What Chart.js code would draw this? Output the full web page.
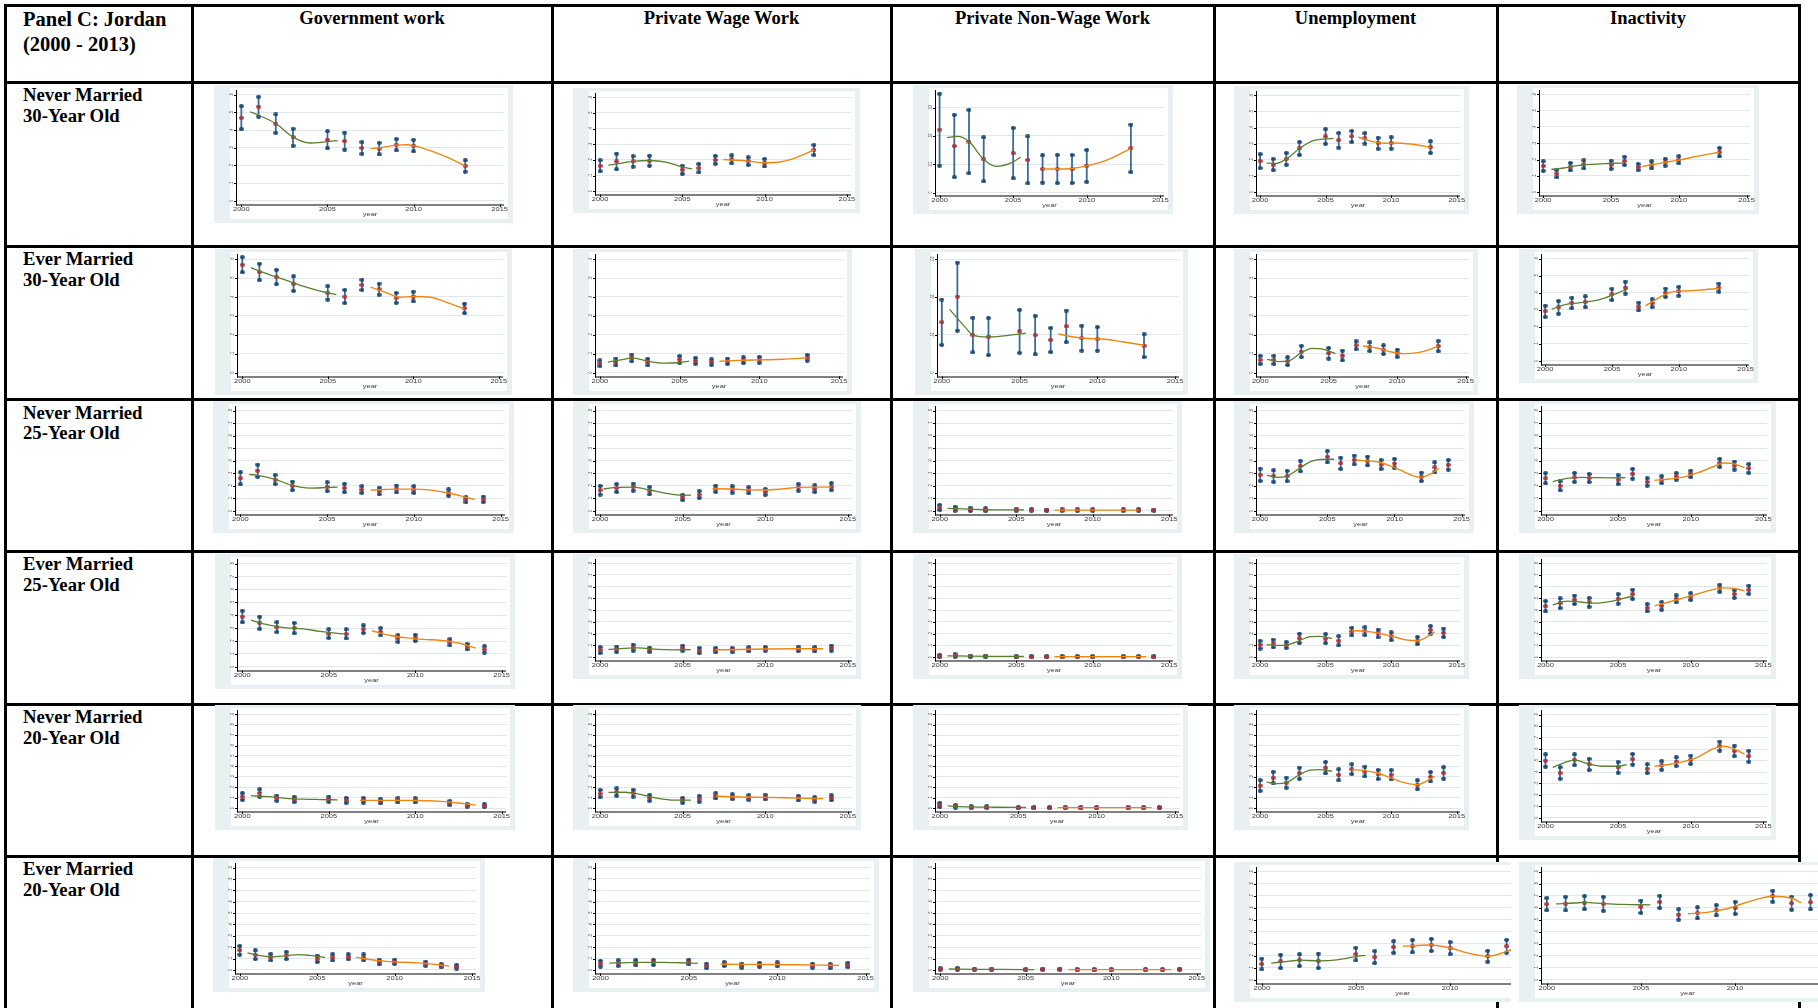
<!DOCTYPE html>
<html>
<head>
<meta charset="utf-8">
<script src="https://cdn.jsdelivr.net/npm/chart.js@4.4.1/dist/chart.umd.min.js"></script>
<style>
html, body { margin:0; padding:0; background:#fff; width:1818px; height:1008px; overflow:hidden; position:relative; }
.ln { position:absolute; background:#000; }
.hd { position:absolute; font-family:'Liberation Serif','Times New Roman',serif; font-weight:bold; color:#000; white-space:nowrap; }
.cell { position:absolute; overflow:hidden; }
.cell canvas { display:block; }
</style>
</head>
<body>
<script>
// table text
const panelTitle = ['Panel C: Jordan', '(2000 - 2013)'];
const colTitles = ['Government work', 'Private Wage Work', 'Private Non-Wage Work', 'Unemployment', 'Inactivity'];
const rowTitles = [
	['Never Married', '30-Year Old'], ['Ever Married', '30-Year Old'],
	['Never Married', '25-Year Old'], ['Ever Married', '25-Year Old'],
	['Never Married', '20-Year Old'], ['Ever Married', '20-Year Old']
];

// survey years and axis ticks
const yrs30 = [2000, 2001, 2002, 2003, 2005, 2006, 2007, 2008, 2009, 2010, 2013];
const yrsAll = [2000, 2001, 2002, 2003, 2005, 2006, 2007, 2008, 2009, 2010, 2012, 2013, 2014];
const yearTicks = [2000, 2005, 2010, 2015];
const ticks06 = [0, .1, .2, .3, .4, .5, .6];
const labs06 = ['0', '.1', '.2', '.3', '.4', '.5', '.6'];
const ticks003 = [0, .01, .02, .03];
const labs003 = ['0', '.01', '.02', '.03'];
const ticks08 = [0, .1, .2, .3, .4, .5, .6, .7, .8];
const labs08 = ['0', '.1', '.2', '.3', '.4', '.5', '.6', '.7', '.8'];
const ticks09 = [0, .1, .2, .3, .4, .5, .6, .7, .8, .9];
const labs09 = ['0', '.1', '.2', '.3', '.4', '.5', '.6', '.7', '.8', '.9'];

// Never married, 30 years old
const nm30GovEst = [.47, .533, .437, .36, .345, .338, .299, .295, .317, .312, .197];
const nm30GovErr = [.065, .056, .052, .048, .048, .048, .033, .033, .032, .033, .032];
const nm30GovFit1 = [[2000.5, .504], [2001, .484], [2002, .437], [2003, .36], [2004, .327], [2005, .335], [2005.6, .341]];
const nm30GovFit2 = [[2007.5, .295], [2008, .30], [2009, .315], [2009.6, .317], [2010, .312], [2011, .282], [2012, .244], [2013, .197]];
const nm30PwEst = [.162, .19, .19, .195, .137, .147, .20, .203, .192, .182, .263];
const nm30PwErr = [.035, .05, .033, .032, .026, .027, .025, .025, .024, .024, .032];
const nm30PwFit1 = [[2000.5, .166], [2001, .174], [2002, .19], [2003, .196], [2004, .186], [2005, .154], [2005.6, .143]];
const nm30PwFit2 = [[2007.5, .202], [2009, .192], [2010, .182], [2011, .188], [2012, .218], [2013, .263]];
const nm30NwEst = [.0222, .0164, .018, .0117, .0139, .0115, .0083, .0083, .0083, .0094, .0156];
const nm30NwErr = [.0127, .011, .0112, .0078, .0089, .0083, .0048, .005, .0049, .0056, .0084];
const nm30NwFit1 = [[2000.5, .0194], [2001.2, .0198], [2002, .018], [2003, .0117], [2003.9, .0092], [2005, .0108], [2005.5, .0125]];
const nm30NwFit2 = [[2007, .0083], [2008, .0083], [2009, .0085], [2010, .0094], [2011.4, .0115], [2013, .0156]];
const nm30UnEst = [.192, .17, .206, .271, .345, .321, .345, .333, .303, .305, .279];
const nm30UnErr = [.043, .035, .036, .04, .045, .045, .034, .032, .034, .035, .036];
const nm30UnFit1 = [[2000.5, .18], [2001.2, .178], [2002, .205], [2003, .27], [2004, .318], [2005, .33], [2005.6, .333]];
const nm30UnFit2 = [[2007.5, .34], [2008.5, .315], [2009.5, .303], [2010.3, .305], [2011.5, .298], [2012.5, .285], [2013, .278]];
const nm30InEst = [.16, .113, .156, .17, .168, .192, .154, .168, .183, .198, .245];
const nm30InErr = [.029, .022, .023, .025, .025, .025, .019, .022, .021, .022, .026];
const nm30InFit1 = [[2000.6, .139], [2001.5, .148], [2002.5, .162], [2003.5, .17], [2004.5, .175], [2005.2, .177], [2006, .178]];
const nm30InFit2 = [[2007.3, .158], [2008.5, .175], [2009.5, .19], [2010.5, .205], [2011.5, .222], [2013, .245]];

// Ever married, 30 years old
const em30GovEst = [.57, .532, .505, .47, .421, .402, .464, .441, .395, .402, .339];
const em30GovErr = [.04, .043, .038, .038, .035, .035, .027, .029, .026, .026, .025];
const em30GovFit1 = [[2000.5, .555], [2001.5, .52], [2002.5, .49], [2003.5, .458], [2004.5, .432], [2005.5, .412]];
const em30GovFit2 = [[2007.5, .452], [2008.5, .42], [2009.2, .398], [2010, .402], [2011, .398], [2012, .37], [2013, .335]];
const em30PwEst = [.049, .056, .077, .055, .069, .062, .055, .06, .065, .067, .078];
const em30PwErr = [.015, .018, .018, .017, .018, .015, .014, .014, .015, .015, .015];
const em30PwFit1 = [[2000.5, .055], [2001.5, .07], [2002, .077], [2003, .06], [2004, .05], [2005, .053], [2005.6, .06]];
const em30PwFit2 = [[2007.5, .06], [2009, .065], [2010, .067], [2011.5, .07], [2013, .078]];
const em30NwEst = [.0133, .0201, .0099, .0095, .0109, .0099, .0086, .0122, .0091, .0089, .0071];
const em30NwErr = [.006, .009, .0046, .0049, .0057, .0051, .0032, .0042, .0033, .0031, .003];
const em30NwFit1 = [[2000.5, .0167], [2001.5, .012], [2002, .0099], [2003, .0094], [2004, .0097], [2005.4, .0104]];
const em30NwFit2 = [[2007.5, .0102], [2008.5, .0094], [2009.5, .009], [2010.5, .0088], [2011.5, .0082], [2013, .0072]];
const em30UnEst = [.067, .067, .06, .111, .102, .09, .144, .136, .121, .102, .139];
const em30UnErr = [.021, .022, .02, .03, .028, .026, .021, .023, .022, .019, .027];
const em30UnFit1 = [[2000.5, .07], [2001.3, .058], [2002, .06], [2003, .105], [2003.8, .128], [2004.5, .125], [2005.5, .1]];
const em30UnFit2 = [[2007.5, .14], [2008.5, .13], [2009.5, .11], [2010.5, .1], [2011.5, .105], [2012.3, .12], [2013, .14]];
const em30InEst = [.291, .314, .34, .346, .39, .43, .319, .338, .40, .408, .43];
const em30InErr = [.033, .037, .031, .032, .033, .035, .023, .023, .024, .026, .024];
const em30InFit1 = [[2000.5, .304], [2001.5, .33], [2002.5, .34], [2003.5, .35], [2004.5, .37], [2005.5, .40], [2006.2, .424]];
const em30InFit2 = [[2007.5, .323], [2008.5, .37], [2009.5, .405], [2010.5, .41], [2011.5, .415], [2013, .425]];

// Never married, 25 years old
const nm25GovEst = [.26, .321, .25, .20, .193, .183, .17, .159, .175, .17, .147, .09, .093];
const nm25GovErr = [.048, .049, .036, .034, .035, .033, .026, .027, .027, .026, .025, .021, .022];
const nm25GovFit1 = [[2000.5, .291], [2001, .283], [2002, .252], [2003, .203], [2004, .182], [2005, .187], [2005.6, .19]];
const nm25GovFit2 = [[2007.5, .166], [2008, .169], [2009, .174], [2010, .174], [2011, .166], [2012, .143], [2013, .109], [2013.5, .091]];
const nm25PwEst = [.165, .183, .19, .162, .108, .131, .177, .172, .165, .152, .188, .177, .193];
const nm25PwErr = [.034, .031, .028, .03, .021, .027, .024, .025, .024, .023, .026, .026, .027];
const nm25PwFit1 = [[2000.2, .175], [2001, .188], [2002, .19], [2003, .167], [2004, .14], [2005, .125], [2005.5, .126]];
const nm25PwFit2 = [[2006.8, .177], [2008, .175], [2009, .168], [2010, .167], [2011, .175], [2012, .188], [2013, .19], [2014, .19]];
const nm25NwEst = [.028, .018, .013, .01, .01, .008, .006, .007, .007, .007, .007, .009, .005];
const nm25NwErr = [.02, .016, .013, .011, .007, .006, .005, .005, .005, .005, .005, .006, .004];
const nm25NwFit1 = [[2000.5, .02], [2002, .014], [2003, .01], [2004, .009], [2005.5, .008]];
const nm25NwFit2 = [[2007.5, .007], [2009, .007], [2011, .007], [2013, .007]];
const nm25UnEst = [.288, .278, .278, .357, .432, .38, .406, .398, .37, .378, .272, .347, .368];
const nm25UnErr = [.049, .045, .041, .042, .045, .045, .035, .035, .035, .036, .034, .04, .038];
const nm25UnFit1 = [[2000.5, .283], [2001.3, .268], [2002, .278], [2003, .345], [2003.8, .395], [2004.5, .41], [2005.5, .412]];
const nm25UnFit2 = [[2007.2, .404], [2008.8, .39], [2010.3, .332], [2011.4, .28], [2012, .268], [2012.6, .29], [2013.3, .337]];
const nm25InEst = [.26, .20, .267, .262, .249, .296, .231, .249, .275, .296, .383, .362, .339];
const nm25InErr = [.041, .036, .035, .032, .035, .038, .029, .028, .026, .025, .032, .032, .034];
const nm25InFit1 = [[2000.5, .234], [2001.5, .26], [2002.5, .268], [2003.5, .265], [2004.5, .264], [2005.5, .265]];
const nm25InFit2 = [[2007.5, .244], [2008.5, .255], [2009.5, .27], [2010.5, .305], [2011.5, .35], [2012.3, .382], [2013, .375], [2013.7, .345]];

// Ever married, 25 years old
const em25GovEst = [.39, .342, .307, .30, .257, .255, .292, .272, .22, .225, .19, .157, .135];
const em25GovErr = [.045, .047, .038, .04, .033, .035, .029, .028, .025, .024, .024, .022, .024];
const em25GovFit1 = [[2000.5, .362], [2001.5, .325], [2002.5, .302], [2003.5, .295], [2004.5, .275], [2005.5, .26], [2006, .255]];
const em25GovFit2 = [[2007.5, .28], [2008.5, .245], [2009.5, .225], [2010.5, .213], [2011.5, .205], [2012.5, .185], [2013.5, .145]];
const em25PwEst = [.06, .068, .082, .063, .077, .057, .06, .06, .068, .071, .071, .068, .078];
const em25PwErr = [.025, .023, .025, .019, .022, .022, .019, .018, .018, .016, .019, .019, .021];
const em25PwFit1 = [[2000.5, .066], [2001.5, .075], [2002.3, .08], [2003.5, .066], [2004.5, .063], [2005.5, .064]];
const em25PwFit2 = [[2007, .063], [2008.5, .065], [2010, .07], [2012, .072], [2013.5, .072]];
const em25NwEst = [.01, .015, .008, .008, .005, .006, .006, .005, .005, .005, .005, .006, .004];
const em25NwErr = [.01, .01, .006, .006, .004, .005, .004, .004, .004, .004, .004, .004, .003];
const em25NwFit1 = [[2000.5, .012], [2002, .009], [2003.5, .007], [2005.5, .006]];
const em25NwFit2 = [[2007.5, .005], [2010, .005], [2013.5, .005]];
const em25UnEst = [.107, .117, .104, .16, .158, .14, .218, .221, .202, .178, .142, .232, .208];
const em25UnErr = [.033, .033, .025, .04, .039, .039, .032, .033, .033, .033, .03, .033, .036];
const em25UnFit1 = [[2000.5, .108], [2001.3, .10], [2002, .103], [2003, .14], [2003.8, .175], [2004.5, .177], [2005.5, .16]];
const em25UnFit2 = [[2007, .227], [2008, .222], [2009, .205], [2010, .18], [2011, .15], [2012, .14], [2012.7, .17], [2013.3, .215]];
const em25InEst = [.434, .459, .489, .467, .497, .536, .421, .437, .497, .516, .587, .538, .574];
const em25InErr = [.044, .041, .036, .037, .04, .039, .03, .032, .03, .029, .03, .032, .035];
const em25InFit1 = [[2000.5, .445], [2001.5, .478], [2002.5, .468], [2003.5, .46], [2004.5, .475], [2005.5, .505], [2006, .52]];
const em25InFit2 = [[2007.5, .437], [2008.5, .47], [2009.5, .505], [2010.5, .54], [2011.5, .575], [2012.3, .59], [2013, .585], [2013.7, .565]];

// Never married, 20 years old
const nm20GovEst = [.112, .146, .096, .084, .087, .075, .075, .068, .075, .075, .05, .028, .025];
const nm20GovErr = [.032, .034, .025, .025, .025, .023, .022, .022, .02, .02, .02, .014, .014];
const nm20GovFit1 = [[2000.5, .12], [2001.5, .11], [2002.5, .095], [2003.5, .087], [2004.5, .083], [2005.5, .08]];
const nm20GovFit2 = [[2006.8, .075], [2008, .075], [2010, .074], [2011.5, .065], [2012.5, .05], [2013.5, .03]];
const nm20PwEst = [.14, .155, .143, .099, .075, .09, .118, .109, .102, .106, .096, .084, .099];
const nm20PwErr = [.034, .034, .033, .027, .023, .027, .025, .023, .022, .022, .022, .022, .023];
const nm20PwFit1 = [[2000.5, .152], [2001.5, .153], [2002.5, .13], [2003.5, .095], [2004.5, .078], [2005.5, .078]];
const nm20PwFit2 = [[2007, .115], [2008.5, .108], [2010, .104], [2012, .097], [2013.5, .092]];
const nm20NwEst = [.03, .018, .01, .01, .006, .006, .005, .006, .006, .006, .006, .006, .005];
const nm20NwErr = [.02, .012, .007, .007, .005, .005, .004, .004, .004, .004, .004, .004, .004];
const nm20NwFit1 = [[2000.5, .022], [2002, .012], [2003.5, .009], [2005.5, .007]];
const nm20NwFit2 = [[2007.5, .006], [2010, .006], [2013.5, .006]];
const nm20UnEst = [.217, .292, .245, .335, .388, .32, .373, .351, .323, .32, .224, .301, .338];
const nm20UnErr = [.05, .055, .047, .053, .055, .053, .047, .047, .043, .044, .042, .045, .054];
const nm20UnFit1 = [[2000.5, .25], [2001.3, .235], [2002, .245], [2003, .32], [2003.8, .365], [2004.5, .37], [2005.5, .355]];
const nm20UnFit2 = [[2007, .37], [2008, .36], [2009, .335], [2010, .29], [2011, .245], [2012, .225], [2012.7, .26], [2013.3, .305]];
const nm20InEst = [.50, .391, .506, .466, .44, .511, .429, .457, .491, .506, .626, .583, .537];
const nm20InErr = [.053, .049, .047, .049, .046, .046, .038, .037, .038, .036, .039, .046, .047];
const nm20InFit1 = [[2000.5, .44], [2001.5, .49], [2002, .503], [2003, .47], [2004, .45], [2005, .45], [2005.6, .465]];
const nm20InFit2 = [[2007.5, .449], [2008.5, .465], [2009.5, .49], [2010.5, .53], [2011.5, .60], [2012.3, .625], [2013, .60], [2013.7, .555]];

// Ever married, 20 years old
const em20GovEst = [.173, .133, .112, .127, .098, .11, .115, .11, .069, .072, .055, .037, .028];
const em20GovErr = [.038, .038, .029, .032, .028, .027, .022, .026, .02, .019, .018, .015, .016];
const em20GovFit1 = [[2000.5, .15], [2001.3, .125], [2002, .115], [2003, .125], [2003.8, .135], [2004.5, .128], [2005.5, .11]];
const em20GovFit2 = [[2007.5, .11], [2008.5, .09], [2009.5, .075], [2010.5, .067], [2011.5, .062], [2012.5, .05], [2013.5, .035]];
const em20PwEst = [.055, .06, .063, .066, .069, .035, .052, .037, .043, .049, .037, .032, .043];
const em20PwErr = [.025, .025, .023, .022, .02, .02, .017, .018, .018, .017, .018, .018, .02];
const em20PwFit1 = [[2000.5, .06], [2001.5, .065], [2002.5, .067], [2003.5, .067], [2004.5, .063], [2005.5, .058]];
const em20PwFit2 = [[2006.8, .05], [2008, .049], [2009.5, .048], [2011, .045], [2012.5, .042], [2013.5, .04]];
const em20NwEst = [.008, .01, .005, .005, .003, .004, .004, .003, .003, .003, .003, .003, .004];
const em20NwErr = [.007, .008, .004, .004, .003, .003, .003, .003, .003, .003, .003, .003, .003];
const em20NwFit1 = [[2000.5, .008], [2002, .005], [2003.5, .004], [2005.5, .003]];
const em20NwFit2 = [[2007.5, .003], [2010, .003], [2013.5, .003]];
const em20UnEst = [.131, .153, .164, .158, .214, .188, .273, .279, .29, .263, .196, .279, .30];
const em20UnErr = [.045, .055, .048, .06, .053, .05, .048, .051, .05, .05, .045, .053, .05];
const em20UnFit1 = [[2000.5, .139], [2001.5, .155], [2002, .163], [2003, .158], [2004, .166], [2005, .193], [2005.5, .204]];
const em20UnFit2 = [[2007.5, .279], [2008.5, .288], [2009, .29], [2010, .265], [2011, .22], [2012, .196], [2013, .236], [2013.6, .27]];
const em20InEst = [.63, .635, .643, .633, .609, .649, .544, .558, .579, .60, .697, .638, .646];
const em20InErr = [.051, .057, .054, .058, .051, .051, .043, .046, .043, .05, .045, .054, .059];
const em20InFit1 = [[2000.5, .633], [2001.5, .64], [2002, .645], [2003, .635], [2004, .628], [2005.5, .625]];
const em20InFit2 = [[2007.5, .55], [2008.5, .562], [2009.5, .59], [2010.5, .64], [2011.5, .685], [2012, .697], [2013, .68], [2013.5, .643]];

// colours (Stata s2color look)
const BG = '#e8f0f2', GRIDC = '#dfe7eb', BAR = '#3b6a99', NAVY = '#1c4b78', RED = '#a8343c', GREEN = '#5b7f2f', ORANGE = '#ee8711';

// where each picture sits in the page
const panels = [
	{x:214, y:85, w:299, h:138, yrs:yrs30, est:nm30GovEst, err:nm30GovErr, f1:nm30GovFit1, f2:nm30GovFit2, t:ticks06, l:labs06},
	{x:573, y:88, w:287, h:125, yrs:yrs30, est:nm30PwEst, err:nm30PwErr, f1:nm30PwFit1, f2:nm30PwFit2, t:ticks06, l:labs06},
	{x:913, y:85, w:260, h:129, yrs:yrs30, est:nm30NwEst, err:nm30NwErr, f1:nm30NwFit1, f2:nm30NwFit2, t:ticks003, l:labs003, ymax:.0362},
	{x:1234, y:86, w:235, h:128, yrs:yrs30, est:nm30UnEst, err:nm30UnErr, f1:nm30UnFit1, f2:nm30UnFit2, t:ticks06, l:labs06},
	{x:1517, y:85, w:242, h:129, yrs:yrs30, est:nm30InEst, err:nm30InErr, f1:nm30InFit1, f2:nm30InFit2, t:ticks06, l:labs06},

	{x:215, y:249, w:297, h:146, yrs:yrs30, est:em30GovEst, err:em30GovErr, f1:em30GovFit1, f2:em30GovFit2, t:ticks06, l:labs06},
	{x:573, y:249, w:279, h:146, yrs:yrs30, est:em30PwEst, err:em30PwErr, f1:em30PwFit1, f2:em30PwFit2, t:ticks06, l:labs06},
	{x:915, y:249, w:273, h:146, yrs:yrs30, est:em30NwEst, err:em30NwErr, f1:em30NwFit1, f2:em30NwFit2, t:ticks003, l:labs003},
	{x:1234, y:249, w:244, h:146, yrs:yrs30, est:em30UnEst, err:em30UnErr, f1:em30UnFit1, f2:em30UnFit2, t:ticks06, l:labs06},
	{x:1519, y:249, w:239, h:134, yrs:yrs30, est:em30InEst, err:em30InErr, f1:em30InFit1, f2:em30InFit2, t:ticks06, l:labs06},

	{x:213, y:401, w:301, h:132, yrs:yrsAll, est:nm25GovEst, err:nm25GovErr, f1:nm25GovFit1, f2:nm25GovFit2, t:ticks08, l:labs08},
	{x:573, y:401, w:288, h:132, yrs:yrsAll, est:nm25PwEst, err:nm25PwErr, f1:nm25PwFit1, f2:nm25PwFit2, t:ticks08, l:labs08},
	{x:913, y:401, w:269, h:132, yrs:yrsAll, est:nm25NwEst, err:nm25NwErr, f1:nm25NwFit1, f2:nm25NwFit2, t:ticks08, l:labs08},
	{x:1234, y:401, w:240, h:132, yrs:yrsAll, est:nm25UnEst, err:nm25UnErr, f1:nm25UnFit1, f2:nm25UnFit2, t:ticks08, l:labs08},
	{x:1519, y:401, w:257, h:132, yrs:yrsAll, est:nm25InEst, err:nm25InErr, f1:nm25InFit1, f2:nm25InFit2, t:ticks08, l:labs08},

	{x:215, y:554, w:300, h:135, yrs:yrsAll, est:em25GovEst, err:em25GovErr, f1:em25GovFit1, f2:em25GovFit2, t:ticks08, l:labs08},
	{x:573, y:554, w:288, h:125, yrs:yrsAll, est:em25PwEst, err:em25PwErr, f1:em25PwFit1, f2:em25PwFit2, t:ticks08, l:labs08},
	{x:913, y:554, w:269, h:125, yrs:yrsAll, est:em25NwEst, err:em25NwErr, f1:em25NwFit1, f2:em25NwFit2, t:ticks08, l:labs08},
	{x:1234, y:554, w:235, h:125, yrs:yrsAll, est:em25UnEst, err:em25UnErr, f1:em25UnFit1, f2:em25UnFit2, t:ticks08, l:labs08},
	{x:1519, y:554, w:257, h:125, yrs:yrsAll, est:em25InEst, err:em25InErr, f1:em25InFit1, f2:em25InFit2, t:ticks08, l:labs08},

	{x:215, y:705, w:300, h:125, yrs:yrsAll, est:nm20GovEst, err:nm20GovErr, f1:nm20GovFit1, f2:nm20GovFit2, t:ticks09, l:labs09},
	{x:573, y:705, w:288, h:125, yrs:yrsAll, est:nm20PwEst, err:nm20PwErr, f1:nm20PwFit1, f2:nm20PwFit2, t:ticks09, l:labs09},
	{x:913, y:705, w:275, h:125, yrs:yrsAll, est:nm20NwEst, err:nm20NwErr, f1:nm20NwFit1, f2:nm20NwFit2, t:ticks09, l:labs09},
	{x:1234, y:705, w:235, h:125, yrs:yrsAll, est:nm20UnEst, err:nm20UnErr, f1:nm20UnFit1, f2:nm20UnFit2, t:ticks09, l:labs09},
	{x:1519, y:705, w:257, h:135, yrs:yrsAll, est:nm20InEst, err:nm20InErr, f1:nm20InFit1, f2:nm20InFit2, t:ticks09, l:labs09},

	{x:213, y:858, w:272, h:134, yrs:yrsAll, est:em20GovEst, err:em20GovErr, f1:em20GovFit1, f2:em20GovFit2, t:ticks09, l:labs09},
	{x:573, y:858, w:306, h:134, yrs:yrsAll, est:em20PwEst, err:em20PwErr, f1:em20PwFit1, f2:em20PwFit2, t:ticks09, l:labs09},
	{x:913, y:858, w:297, h:134, yrs:yrsAll, est:em20NwEst, err:em20NwErr, f1:em20NwFit1, f2:em20NwFit2, t:ticks09, l:labs09},
	{x:1234, y:862, w:324, h:140, clip:277, yrs:yrsAll, est:em20UnEst, err:em20UnErr, f1:em20UnFit1, f2:em20UnFit2, t:ticks09, l:labs09},
	{x:1519, y:862, w:324, h:140, clip:299, yrs:yrsAll, est:em20InEst, err:em20InErr, f1:em20InFit1, f2:em20InFit2, t:ticks09, l:labs09}
];

// table rules
const vLines = [5, 192, 552, 891, 1214, 1497, 1799];
const hLines = [5, 82, 246, 399.5, 551, 704, 856];
const colCenters = [372, 721.5, 1052.5, 1355.5, 1648];

function addDiv(cls, css, html) {
	const d = document.createElement('div');
	d.className = cls;
	Object.assign(d.style, css);
	if (html) d.innerHTML = html;
	document.body.appendChild(d);
	return d;
}

vLines.forEach(x => addDiv('ln', {left:(x - 1.5) + 'px', top:'4px', width:'3px', height:'1004px'}));
hLines.forEach(y => addDiv('ln', {left:'4px', top:(y - 1.5) + 'px', width:'1797px', height:'3px'}));

addDiv('hd', {left:'23px', top:'7px', fontSize:'20.5px', lineHeight:'24.5px'}, panelTitle.join('<br>'));
colTitles.forEach((t, i) => addDiv('hd', {left:(colCenters[i] - 200) + 'px', width:'400px', textAlign:'center', top:'7.7px', fontSize:'18.5px', lineHeight:'20px'}, t));
rowTitles.forEach((t, i) => addDiv('hd', {left:'23px', top:(hLines[i + 1] + 3.4) + 'px', fontSize:'18.7px', lineHeight:'20.5px'}, t.join('<br>')));

function dotImage(w, h, color) {
	const c = document.createElement('canvas');
	c.width = w; c.height = h;
	const g = c.getContext('2d');
	g.fillStyle = color;
	g.beginPath();
	g.ellipse(w / 2, h / 2, w / 2, h / 2, 0, 0, Math.PI * 2);
	g.fill();
	return c;
}
const capDot = dotImage(5, 4, NAVY);
const estDot = dotImage(5, 4, RED);

function stataLook(p) {
	return {
		id: 'stataLook',
		beforeDraw(chart) {
			const {ctx, width, height} = chart;
			ctx.save();
			ctx.fillStyle = BG;
			ctx.fillRect(0, 0, width, height);
			ctx.fillStyle = '#fff';
			ctx.fillRect(16, 3, width - 21, height - 7);
			ctx.restore();
		},
		beforeDatasetsDraw(chart) {
			// confidence bars between the hi and lo caps
			const ctx = chart.ctx;
			const hi = chart.getDatasetMeta(3).data, lo = chart.getDatasetMeta(4).data;
			ctx.save();
			ctx.strokeStyle = BAR;
			ctx.lineWidth = 1.8;
			hi.forEach((el, i) => {
				ctx.beginPath();
				ctx.moveTo(el.x, el.y);
				ctx.lineTo(lo[i].x, lo[i].y);
				ctx.stroke();
			});
			ctx.restore();
		},
		afterDraw(chart) {
			const {ctx} = chart;
			const {left, right, top, bottom} = chart.chartArea;
			const xs = chart.scales.x, ys = chart.scales.y;
			ctx.save();
			ctx.strokeStyle = '#000';
			ctx.lineWidth = 1;
			ctx.beginPath();
			ctx.moveTo(left + .5, top);
			ctx.lineTo(left + .5, bottom + 1);
			ctx.moveTo(left, bottom + .5);
			ctx.lineTo(right, bottom + .5);
			p.t.forEach(v => {
				const y = Math.round(ys.getPixelForValue(v)) + .5;
				ctx.moveTo(left - 2, y); ctx.lineTo(left, y);
			});
			yearTicks.forEach(v => {
				const x = Math.round(xs.getPixelForValue(v)) + .5;
				ctx.moveTo(x, bottom); ctx.lineTo(x, bottom + 2.5);
			});
			ctx.stroke();
			ctx.fillStyle = '#3a3a3a';
			ctx.textAlign = 'center';
			ctx.textBaseline = 'middle';
			ctx.font = '5px "Liberation Sans"';
			p.t.forEach((v, i) => {
				ctx.save();
				ctx.translate(left - 4.3, ys.getPixelForValue(v));
				ctx.scale(1, .7);
				ctx.rotate(-Math.PI / 2);
				ctx.fillText(p.l[i], 0, 0);
				ctx.restore();
			});
			ctx.font = '7.5px "Liberation Sans"';
			yearTicks.forEach(v => {
				ctx.save();
				ctx.translate(xs.getPixelForValue(v), bottom + 5);
				ctx.scale(1, .62);
				ctx.fillText(String(v), 0, 0);
				ctx.restore();
			});
			ctx.save();
			ctx.translate((left + right) / 2, bottom + 10.5);
			ctx.scale(1, .62);
			ctx.fillText('year', 0, 0);
			ctx.restore();
			ctx.restore();
		}
	};
}

function makePanel(p) {
	const box = addDiv('cell', {left:p.x + 'px', top:p.y + 'px', width:(p.clip || p.w) + 'px', height:p.h + 'px'});
	const cv = document.createElement('canvas');
	cv.width = p.w; cv.height = p.h;
	cv.style.width = p.w + 'px'; cv.style.height = p.h + 'px';
	box.appendChild(cv);
	const topTick = p.t[p.t.length - 1];
	const pts = vals => p.yrs.map((yr, i) => ({x:yr, y:vals[i]}));
	const fit = f => f.map(([x, y]) => ({x, y}));
	new Chart(cv, {
		type: 'scatter',
		data: {
			datasets: [
				{type:'line', data:fit(p.f1), borderColor:GREEN, borderWidth:1.3, pointRadius:0, cubicInterpolationMode:'monotone', fill:false},
				{type:'line', data:fit(p.f2), borderColor:ORANGE, borderWidth:1.4, pointRadius:0, cubicInterpolationMode:'monotone', fill:false},
				{data:pts(p.est), pointStyle:estDot, pointRadius:2},
				{data:pts(p.est.map((v, i) => v + p.err[i])), pointStyle:capDot, pointRadius:2},
				{data:pts(p.est.map((v, i) => v - p.err[i])), pointStyle:capDot, pointRadius:2}
			]
		},
		options: {
			responsive: false,
			animation: false,
			events: [],
			layout: {padding: {left:22, right:9, top:4.5, bottom:18.5}},
			plugins: {legend:{display:false}, tooltip:{enabled:false}},
			scales: {
				x: {
					type:'linear', min:1999.69, max:2015.25,
					grid:{display:false, drawTicks:false}, border:{display:false},
					ticks:{display:false}, afterFit: s => { s.height = 0; }
				},
				y: {
					type:'linear', min:-0.035 * topTick, max:p.ymax || topTick * 1.045,
					afterBuildTicks: s => { s.ticks = p.t.map(v => ({value:v})); },
					grid:{color:GRIDC, lineWidth:1, drawTicks:false}, border:{display:false},
					ticks:{display:false}, afterFit: s => { s.width = 0; }
				}
			}
		},
		plugins: [stataLook(p)]
	});
}

panels.forEach(makePanel);
</script>
</body>
</html>
